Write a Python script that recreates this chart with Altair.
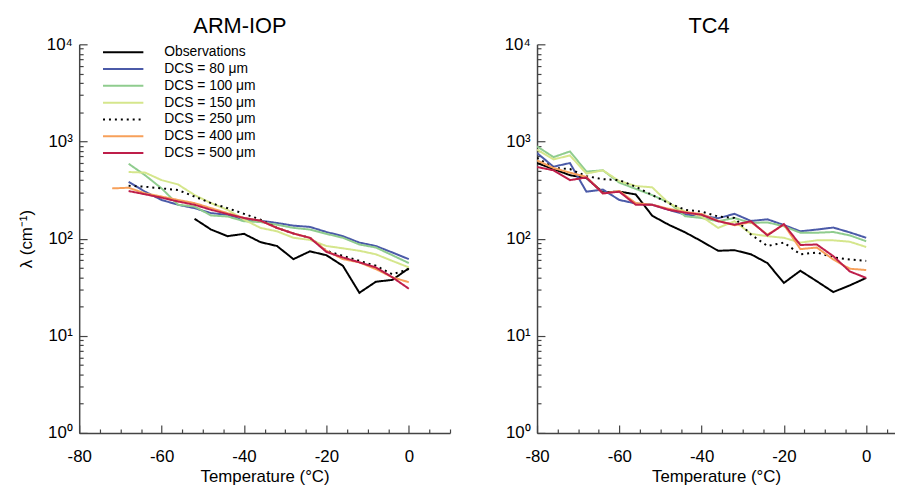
import altair as alt
import pandas as pd

SERIES = ["Observations", "DCS = 80 μm", "DCS = 100 μm", "DCS = 150 μm",
          "DCS = 250 μm", "DCS = 400 μm", "DCS = 500 μm"]
COLORS = ["#000000", "#4b5aa8", "#8fcc8e", "#d5e68c", "#000000", "#f7a05a", "#be1e4a"]
DASHES = [[1, 0], [1, 0], [1, 0], [1, 0], [2, 4], [1, 0], [1, 0]]
WIDTHS = [2, 2, 2, 2, 3.5, 2, 2]

# ---------------- ARM-IOP ----------------
arm_obs_t = [-52, -48, -44, -40, -36, -32, -28, -24, -20, -16, -12, -8, -4, 0]
arm_obs = [160, 124, 106, 112, 92, 84, 61.5, 74, 67.5, 52.5, 27.7, 36, 37.6, 49.5]

arm_t = [-68, -64, -60, -56, -52, -48, -44, -40, -36, -32, -28, -24, -20, -16, -12, -8, -4, 0]
arm_t400 = [-72, -68, -64, -60, -56, -52, -48, -44, -40, -36, -32, -28, -24, -20, -16, -12, -8, -4, 0]
arm_80 = [384, 304, 250, 223, 206, 183, 176, 157, 153, 145, 136, 132, 117, 106, 91, 84, 72, 61.5]
arm_100 = [590, 449, 329, 223, 214, 173, 169, 151, 148, 139, 129, 124, 112, 102, 87, 81, 67.5, 56]
arm_150 = [485, 478, 400, 361, 281, 232, 198, 157, 129, 119, 102, 97, 84, 79.5, 75, 69, 59, 50.6]
arm_250 = [350, 342, 329, 316, 271, 232, 206, 180, 157, 129, 113, 102, 75, 66.5, 59, 52.6, 43, 48.6]
arm_400 = [329, 334, 292, 271, 250, 232, 206, 183, 163, 153, 129, 113, 102, 75, 61.5, 57, 48.6, 40, 35.6]
arm_500 = [309, 286, 264, 241, 223, 198, 179, 163, 153, 129, 113, 102, 73, 64, 57, 50.6, 40, 30.5]

# ---------------- TC4 ----------------
tc4_t = [-80, -76, -72, -68, -64, -60, -56, -52, -48, -44, -40, -36, -32, -28, -24, -20, -16, -12, -8, -4, 0]
tc4_obs = [600, 520, 450, 420, 300, 305, 285, 172, 139, 116, 94, 75, 76, 69, 56, 35, 46.7, 36.4, 28.2, 33, 39.4]
tc4_80 = [760, 550, 600, 304, 320, 250, 230, 223, 198, 177, 172, 162, 180, 152, 158, 138, 119, 124, 130, 116, 102]
tc4_100 = [890, 690, 790, 490, 505, 377, 325, 280, 236, 170, 163, 151, 163, 145, 147, 134, 115, 115, 117, 108, 94]
tc4_150 = [826, 654, 718, 467, 505, 391, 348, 337, 232, 190, 169, 129, 151, 112, 106, 102, 91, 96, 96, 93, 82]
tc4_250 = [680, 535, 520, 440, 409, 400, 342, 281, 232, 198, 190, 169, 163, 110, 84, 91, 69, 72, 64, 61, 59]
tc4_400 = [638, 533, 478, 432, 292, 309, 232, 223, 203, 188, 179, 153, 137, 148, 110, 139, 78, 81, 61, 49, 47.5]
tc4_500 = [546, 505, 400, 426, 292, 304, 223, 223, 198, 185, 176, 151, 139, 151, 108, 141, 86, 87, 66, 46, 39.4]

Y_TICKS = [1, 2, 3, 4, 5, 6, 7, 8, 9, 10, 20, 30, 40, 50, 60, 70, 80, 90,
           100, 200, 300, 400, 500, 600, 700, 800, 900,
           1000, 2000, 3000, 4000, 5000, 6000, 7000, 8000, 9000, 10000]
X_TICKS_L = [-80, -75, -70, -65, -60, -55, -50, -45, -40, -35, -30, -25, -20, -15, -10, -5, 0, 5, 10]
X_TICKS_R = [-80, -75, -70, -65, -60, -55, -50, -45, -40, -35, -30, -25, -20, -15, -10, -5, 0, 5]

FONT = "Liberation Sans"


def frame(pairs):
    rows = []
    for name, ts, vs in pairs:
        for t, v in zip(ts, vs):
            rows.append({"series": name, "T": t, "v": v})
    return pd.DataFrame(rows)


arm_df = frame([
    (SERIES[0], arm_obs_t, arm_obs),
    (SERIES[1], arm_t, arm_80),
    (SERIES[2], arm_t, arm_100),
    (SERIES[3], arm_t, arm_150),
    (SERIES[4], arm_t, arm_250),
    (SERIES[5], arm_t400, arm_400),
    (SERIES[6], arm_t, arm_500),
])
tc4_df = frame([
    (SERIES[0], tc4_t, tc4_obs),
    (SERIES[1], tc4_t, tc4_80),
    (SERIES[2], tc4_t, tc4_100),
    (SERIES[3], tc4_t, tc4_150),
    (SERIES[4], tc4_t, tc4_250),
    (SERIES[5], tc4_t, tc4_400),
    (SERIES[6], tc4_t, tc4_500),
])

y_label_expr = ("datum.value == 1 ? '10⁰' : datum.value == 10 ? '10¹' : datum.value == 100 ? '10²' : "
                "datum.value == 1000 ? '10³' : datum.value == 10000 ? '10⁴' : ''")
y_major = "indexof([1, 10, 100, 1000, 10000], datum.value) >= 0"
x_major = "datum.value % 20 == 0"
Y_TICK_SIZE = {"expr": "(" + y_major + ") ? -8 : -4"}
X_TICK_SIZE = {"expr": "(" + x_major + ") ? -8 : -4"}


def panel(df, title, xdomain, xticks, width, title_dx, left):
    legend = None
    if left:
        legend = alt.Legend(title=None, orient="none", legendX=35, legendY=-1.5,
                            symbolType="M-2.4,0H2.4", symbolSize=289, labelFont=FONT,
                            labelFontSize=14, labelColor="black", labelOffset=32,
                            rowPadding=0, padding=0)
    y_axis_kw = dict(values=Y_TICKS, labelExpr=y_label_expr, labelFlush=False,
                     tickSize=Y_TICK_SIZE, labelPadding=15)
    if left:
        y_axis_kw.update(title="λ (cm⁻¹)", titlePadding=11)
    else:
        y_axis_kw.update(title=None)
    chart = alt.Chart(df).mark_line(clip=True).encode(
        x=alt.X("T:Q", scale=alt.Scale(domain=xdomain, nice=False, zero=False),
                axis=alt.Axis(values=xticks, title="Temperature (°C)", labelFlush=False,
                              labelExpr="(" + x_major + ") ? '' + datum.value : ''",
                              tickSize=X_TICK_SIZE, labelPadding=24)),
        y=alt.Y("v:Q", scale=alt.Scale(type="log", domain=[1, 10000], nice=False),
                axis=alt.Axis(**y_axis_kw)),
        color=alt.Color("series:N", scale=alt.Scale(domain=SERIES, range=COLORS), legend=legend),
        strokeDash=alt.StrokeDash("series:N", scale=alt.Scale(domain=SERIES, range=DASHES), legend=legend),
        strokeWidth=alt.StrokeWidth("series:N", scale=alt.Scale(domain=SERIES, range=WIDTHS), legend=legend),
    ).properties(
        width=width, height=393,
        title=alt.TitleParams(title, dx=title_dx, fontSize=22, font=FONT, fontWeight="normal",
                              color="black", offset=-3),
    )
    return chart


left = panel(arm_df, "ARM-IOP", [-80, 10], X_TICKS_L, 375, -25, True)
right = panel(tc4_df, "TC4", [-80, 7], X_TICKS_R, 362, -7, False)

chart = alt.hconcat(left, right, spacing=53).resolve_scale(
    color="independent", strokeDash="independent", strokeWidth="independent"
).properties(
    padding={"left": 9, "top": 5, "right": 0, "bottom": 5}
).configure_view(stroke=None).configure_axis(
    grid=False, domainColor="#444444", tickColor="#444444", labelColor="black",
    labelFont=FONT, labelFontSize=17, titleFont=FONT, titleFontSize=17,
    titleFontWeight="normal", titleColor="black", domainWidth=1.5, tickWidth=1.2,
)

chart.save("out.html", embed_options={"renderer": "svg", "actions": False})
